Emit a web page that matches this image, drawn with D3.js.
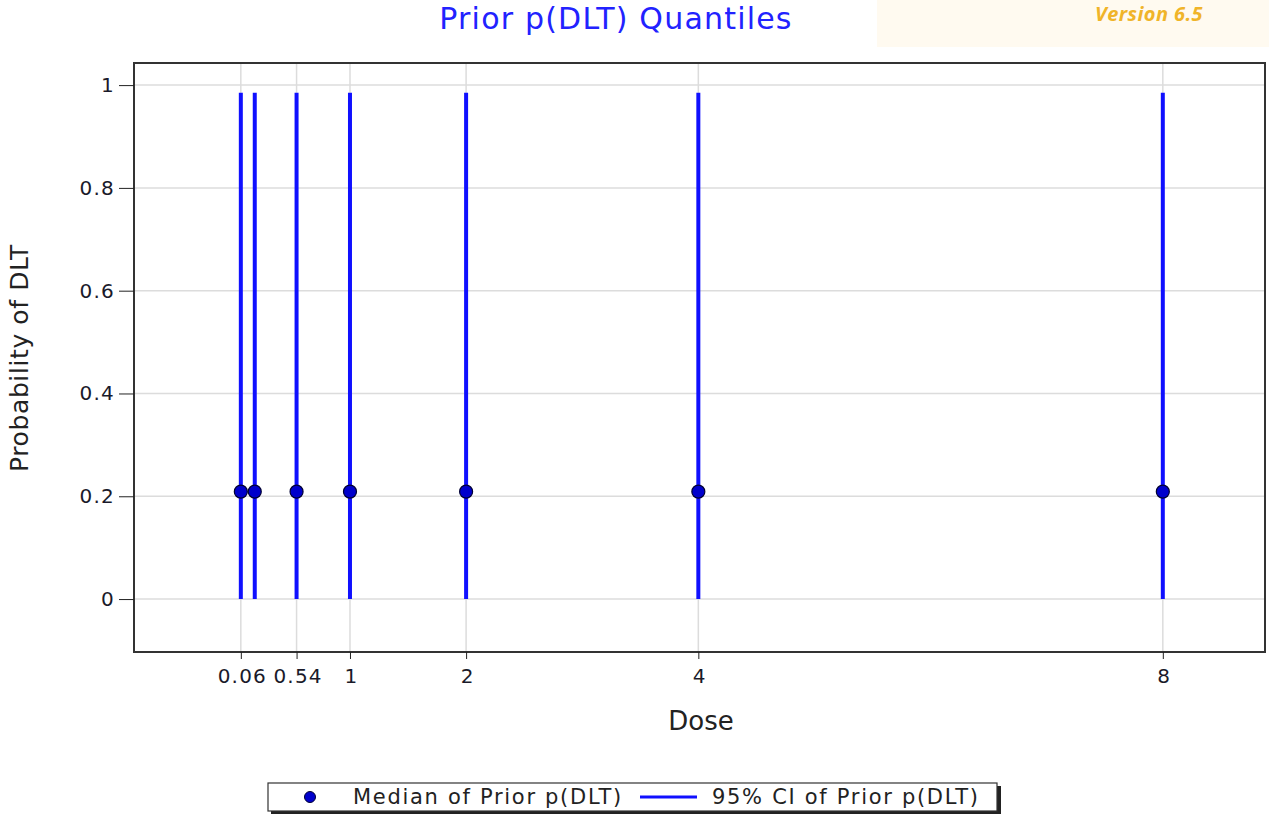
<!DOCTYPE html>
<html>
<head>
<meta charset="utf-8">
<script src="https://cdn.jsdelivr.net/npm/d3@7"></script>
<style>
  body { margin: 0; background: #fff; }
  .tick text { font-family: "DejaVu Sans", Verdana, sans-serif; font-size: 20px; letter-spacing: 1.2px; fill: #1a1a2a; }
</style>
</head>
<body>
<div class="chart"></div>
<script>
// data
const doses = [0.06, 0.18, 0.54, 1, 2, 4, 8];
const medians = [0.209, 0.209, 0.209, 0.209, 0.209, 0.209, 0.209];
const lower = [0, 0, 0, 0, 0, 0, 0];
const upper = [0.985, 0.985, 0.985, 0.985, 0.985, 0.985, 0.985];
const xTicks = [0.06, 0.54, 1, 2, 4, 8];
const yTicks = [0, 0.2, 0.4, 0.6, 0.8, 1];

const outerWidth = 1269;
const outerHeight = 817;
const plot = {left: 134, right: 1265, top: 63, bottom: 652};
const font = "'DejaVu Sans', Verdana, sans-serif";

const svg = d3.select(".chart")
    .append("svg")
    .attr("width", outerWidth)
    .attr("height", outerHeight);

// version banner
svg.append("rect")
    .attr("x", 877).attr("y", 0)
    .attr("width", 392).attr("height", 47)
    .attr("fill", "#fffaf0");
svg.append("text")
    .attr("x", 1149).attr("y", 21)
    .attr("text-anchor", "middle")
    .style("font-family", "'Open Sans', sans-serif")
    .style("font-size", "20px")
    .style("font-style", "italic")
    .style("font-weight", "bold")
    .style("letter-spacing", "0.4px")
    .attr("fill", "#f0b429")
    .text("Version 6.5");

// title
svg.append("text")
    .attr("x", 616).attr("y", 29)
    .attr("text-anchor", "middle")
    .style("font-family", font)
    .style("font-size", "30px")
    .style("letter-spacing", "1.2px")
    .attr("fill", "#2222ff")
    .text("Prior p(DLT) Quantiles");

let xScale = d3.scaleLinear()
    .domain([-0.86, 8.88])
    .range([plot.left, plot.right]);

let yScale = d3.scaleLinear()
    .domain([-0.103, 1.043])
    .range([plot.bottom, plot.top]);

// gridlines
svg.append("g")
    .selectAll("line")
    .data(yTicks)
    .join("line")
    .attr("x1", plot.left).attr("x2", plot.right)
    .attr("y1", d => yScale(d)).attr("y2", d => yScale(d))
    .attr("stroke", "#dcdcdc").attr("stroke-width", 1.5);

svg.append("g")
    .selectAll("line")
    .data(xTicks)
    .join("line")
    .attr("x1", d => xScale(d)).attr("x2", d => xScale(d))
    .attr("y1", plot.top).attr("y2", plot.bottom)
    .attr("stroke", "#dcdcdc").attr("stroke-width", 1.5);

// frame
svg.append("rect")
    .attr("x", plot.left).attr("y", plot.top)
    .attr("width", plot.right - plot.left)
    .attr("height", plot.bottom - plot.top)
    .attr("fill", "none")
    .attr("stroke", "#333").attr("stroke-width", 2);

// axes
const xAxis = d3.axisBottom(xScale)
    .tickValues(xTicks)
    .tickSize(7)
    .tickSizeOuter(0)
    .tickFormat(d => String(d));
const yAxis = d3.axisLeft(yScale)
    .tickValues(yTicks)
    .tickSize(15)
    .tickSizeOuter(0)
    .tickFormat(d => String(d));

const gx = svg.append("g")
    .attr("transform", `translate(0, ${plot.bottom})`)
    .call(xAxis);
gx.select(".domain").remove();
gx.selectAll(".tick line").attr("stroke", "#222");
gx.selectAll(".tick text").attr("y", 17).attr("dx", 1).attr("dy", "0.71em");

const gy = svg.append("g")
    .attr("transform", `translate(${plot.left}, 0)`)
    .call(yAxis);
gy.select(".domain").remove();
gy.selectAll(".tick line").attr("stroke", "#222");
gy.selectAll(".tick text").attr("x", -19);

// CI lines
svg.append("g")
    .selectAll("line")
    .data(doses)
    .join("line")
    .attr("x1", d => xScale(d)).attr("x2", d => xScale(d))
    .attr("y1", (d, i) => yScale(lower[i]))
    .attr("y2", (d, i) => yScale(upper[i]))
    .attr("stroke", "#1010ff").attr("stroke-width", 4);

// medians
svg.append("g")
    .selectAll("circle")
    .data(doses)
    .join("circle")
    .attr("cx", d => xScale(d))
    .attr("cy", (d, i) => yScale(medians[i]))
    .attr("r", 6.5)
    .attr("fill", "#0000cc")
    .attr("stroke", "#000033").attr("stroke-width", 1.2);

// axis titles
svg.append("text")
    .attr("x", 701).attr("y", 730)
    .attr("text-anchor", "middle")
    .style("font-family", font)
    .style("font-size", "26px")
    .attr("fill", "#222")
    .text("Dose");

svg.append("text")
    .attr("transform", "translate(28, 358) rotate(-90)")
    .attr("text-anchor", "middle")
    .style("font-family", font)
    .style("font-size", "25px")
    .style("letter-spacing", "0.6px")
    .attr("fill", "#222")
    .text("Probability of DLT");

// legend
const legend = svg.append("g");
legend.append("rect")
    .attr("x", 271).attr("y", 786)
    .attr("width", 730).attr("height", 28)
    .attr("fill", "#222");
legend.append("rect")
    .attr("x", 268).attr("y", 783)
    .attr("width", 729).attr("height", 28)
    .attr("fill", "#fff")
    .attr("stroke", "#333").attr("stroke-width", 1.2);
legend.append("circle")
    .attr("cx", 310).attr("cy", 797).attr("r", 5.5)
    .attr("fill", "#0000cc").attr("stroke", "#000033");
legend.append("text")
    .attr("x", 353).attr("y", 804)
    .style("font-family", font)
    .style("font-size", "21px")
    .style("letter-spacing", "1.7px")
    .attr("fill", "#222")
    .text("Median of Prior p(DLT)");
legend.append("line")
    .attr("x1", 640).attr("x2", 697)
    .attr("y1", 797).attr("y2", 797)
    .attr("stroke", "#1010ff").attr("stroke-width", 3);
legend.append("text")
    .attr("x", 712).attr("y", 804)
    .style("font-family", font)
    .style("font-size", "21px")
    .style("letter-spacing", "1.7px")
    .attr("fill", "#222")
    .text("95% CI of Prior p(DLT)");
</script>
</body>
</html>
